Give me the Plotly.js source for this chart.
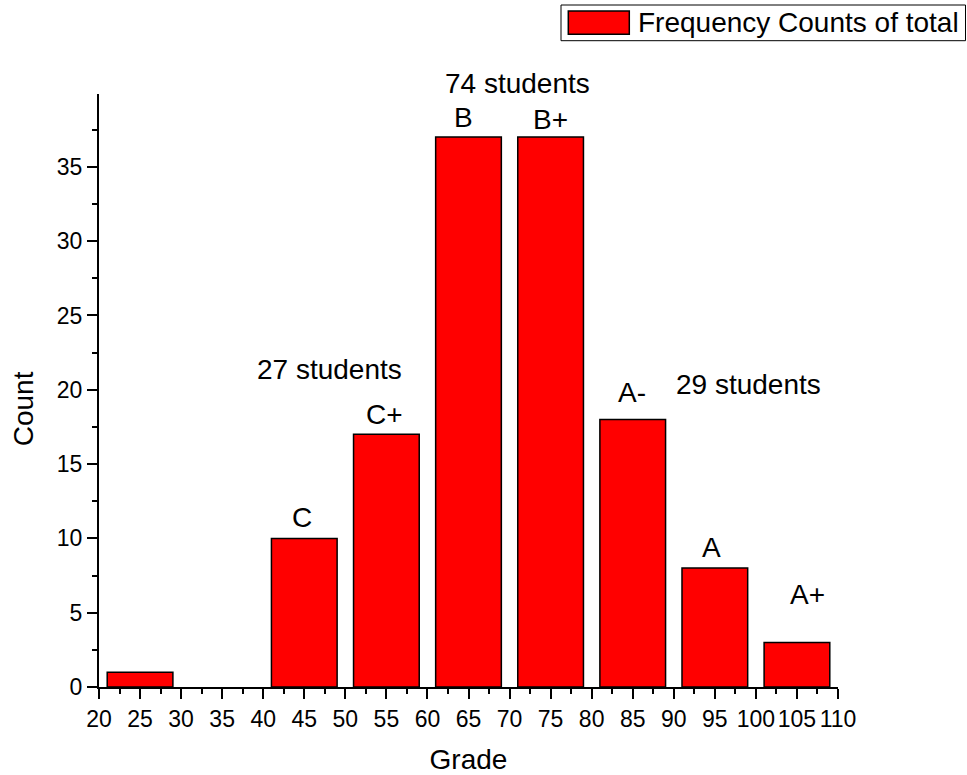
<!DOCTYPE html>
<html>
<head>
<meta charset="utf-8">
<script src="https://cdn.plot.ly/plotly-3.0.1.min.js"></script>
<style>html,body{margin:0;padding:0;background:#fff;}#chart{width:967px;height:775px;}</style>
</head>
<body>
<div id="chart"></div>
<script>
// Data
const binCenters = [25, 35, 45, 55, 65, 75, 85, 95, 105];
const counts = [1, 0, 10, 17, 37, 37, 18, 8, 3];
const seriesName = "Frequency Counts of total";
const xTickVals = [20, 25, 30, 35, 40, 45, 50, 55, 60, 65, 70, 75, 80, 85, 90, 95, 100, 105, 110];
const yTickVals = [0, 5, 10, 15, 20, 25, 30, 35];
const gradeLabels = ["C", "C+", "B", "B+", "A-", "A", "A+"];
const groupLabels = ["27 students", "74 students", "29 students"];

const FONT = "Liberation Sans, Arial, Helvetica, sans-serif";
const BIG = 28;
const TICK = 23;

const trace = {
  type: "bar",
  x: binCenters,
  y: counts,
  width: 8,
  name: seriesName,
  showlegend: false,
  marker: {color: "#ff0000", line: {color: "#000000", width: counts.map(c => c > 0 ? 1.5 : 0)}},
  hoverinfo: "x+y"
};

// annotation positions (layout), paper coordinates
function px2paperX(px) { return (px - 99) / 739; }
function px2paperY(py) { return (687 - py) / 593; }
const gradePos = [[301.7, 517.5], [384, 414], [463.8, 117.5], [550, 119], [632, 392.5], [711, 547], [807, 594.5]];
const groupPos = [[329, 369.5], [517.5, 83], [748, 384]];

const annotations = [];
gradeLabels.forEach((t, i) => annotations.push({
  text: t, x: px2paperX(gradePos[i][0]), y: px2paperY(gradePos[i][1]), xref: "paper", yref: "paper",
  showarrow: false, xanchor: "center", yanchor: "middle",
  font: {family: FONT, size: BIG, color: "#000"}
}));
groupLabels.forEach((t, i) => annotations.push({
  text: t, x: px2paperX(groupPos[i][0]), y: px2paperY(groupPos[i][1]), xref: "paper", yref: "paper",
  showarrow: false, xanchor: "center", yanchor: "middle",
  font: {family: FONT, size: BIG, color: "#000"}
}));
// y axis title
annotations.push({
  text: "Count", x: px2paperX(23.3), y: px2paperY(409), xref: "paper", yref: "paper",
  textangle: -90, showarrow: false, xanchor: "center", yanchor: "middle",
  font: {family: FONT, size: BIG, color: "#000"}
});
// legend text
annotations.push({
  text: seriesName, x: px2paperX(636), y: px2paperY(22.5), xref: "paper", yref: "paper",
  showarrow: false, xanchor: "left", yanchor: "middle",
  font: {family: FONT, size: BIG, color: "#000"}
});

const shapes = [
  {type: "rect", xref: "paper", yref: "paper", x0: px2paperX(561), x1: px2paperX(965.5), y0: px2paperY(40.7), y1: px2paperY(5),
   line: {color: "#000", width: 1}, fillcolor: "rgba(0,0,0,0)"},
  {type: "rect", xref: "paper", yref: "paper", x0: px2paperX(568.3), x1: px2paperX(629.3), y0: px2paperY(34.3), y1: px2paperY(11),
   line: {color: "#000", width: 1.5}, fillcolor: "#ff0000"}
];

const layout = {
  width: 967, height: 775,
  margin: {l: 99, r: 129, t: 94, b: 88, pad: 0},
  paper_bgcolor: "#fff", plot_bgcolor: "#fff",
  font: {family: FONT, size: TICK, color: "#000"},
  showlegend: false,
  bargap: 0.2,
  xaxis: {
    range: [20, 110], tickmode: "array", tickvals: xTickVals,
    ticks: "outside", ticklen: 10, tickwidth: 2, tickcolor: "#000",
    showline: true, linecolor: "#000", linewidth: 2, showgrid: false, zeroline: false,
    tickfont: {family: FONT, size: TICK, color: "#000"},
    minor: {dtick: 2.5, tick0: 20, ticks: "outside", ticklen: 5, tickwidth: 2, tickcolor: "#000", showgrid: false},
    title: {text: "Grade", font: {family: FONT, size: BIG, color: "#000"}, standoff: 22},
    automargin: false, fixedrange: true
  },
  yaxis: {
    range: [0, 39.9], tickmode: "array", tickvals: yTickVals,
    ticks: "outside", ticklen: 10, tickwidth: 2, tickcolor: "#000",
    showline: true, linecolor: "#000", linewidth: 2, showgrid: false, zeroline: false,
    tickfont: {family: FONT, size: TICK, color: "#000"},
    minor: {dtick: 2.5, tick0: 0, ticks: "outside", ticklen: 5, tickwidth: 2, tickcolor: "#000", showgrid: false},
    automargin: false, fixedrange: true
  },
  annotations: annotations,
  shapes: shapes
};

Plotly.newPlot("chart", [trace], layout, {displayModeBar: false, staticPlot: true});
</script>
</body>
</html>
